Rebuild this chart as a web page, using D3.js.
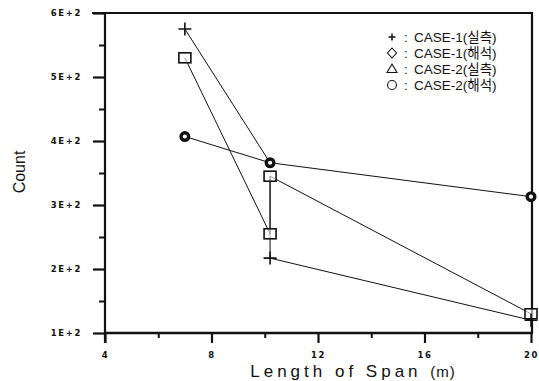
<!DOCTYPE html>
<html>
<head>
<meta charset="utf-8">
<script src="https://cdn.jsdelivr.net/npm/d3@7"></script>
<style>
  html, body { margin: 0; padding: 0; background: #fff; }
  svg { display: block; }
</style>
</head>
<body>
<svg id="chart" width="539" height="381"></svg>
<script>
// Span lengths (m) and counts for each case
const spans = [7, 10.2, 20];
const case1Measured = [575, 217, 120];        // "+"
const case1Analysis = [530, 255, 130];        // squares
const case2Measured = [345];                  // square at 10.2 m
const case2MeasuredSpans = [10.2];
const case2Analysis = [407, 366, 313];        // circles

// Connecting traces, as [span, count] pairs
const traceA = [[7, 575], [10.2, 366]];
const traceB = [[7, 530], [10.2, 255], [10.2, 345], [20, 130]];
const traceC = [[7, 407], [10.2, 366], [20, 313]];
const traceD = [[10.2, 345], [10.2, 217], [20, 120]];

const xTicks = [4, 8, 12, 16, 20];
const xMinor = [6, 10, 14, 18];
const yTicks = [100, 200, 300, 400, 500, 600];
const yTickLabels = ["1E+2", "2E+2", "3E+2", "4E+2", "5E+2", "6E+2"];
const yMinor = [150, 250, 350, 450, 550];

const legendLabels = ["CASE-1(실측)", "CASE-1(해석)", "CASE-2(실측)", "CASE-2(해석)"];
const legendSymbols = ["plus", "diamond", "triangle", "circle"];

const svg = d3.select("#chart");
const x = d3.scaleLinear().domain([4, 20]).range([105, 531]);
const y = d3.scaleLinear().domain([100, 600]).range([333, 13]);
const ink = "#111";
const tickFont = "'DejaVu Sans', sans-serif";

// Frame: top and right borders
svg.append("line").attr("x1", 92).attr("x2", 533).attr("y1", y(600)).attr("y2", y(600))
  .attr("stroke", ink).attr("stroke-width", 2.2);
svg.append("line").attr("x1", 532).attr("x2", 532).attr("y1", y(600) - 1).attr("y2", y(100))
  .attr("stroke", ink).attr("stroke-width", 2.2);

// Left axis
const yAxis = d3.axisLeft(y).tickValues(yTicks).tickSize(12)
  .tickFormat((d, i) => yTickLabels[i]).tickPadding(9);
const gy = svg.append("g").attr("transform", `translate(${x(4)},0)`).call(yAxis);
gy.select(".domain").remove();
gy.selectAll(".tick line").attr("stroke", ink).attr("stroke-width", 2.2);
gy.selectAll(".tick text").attr("font-family", tickFont).attr("font-size", 8.5)
  .attr("font-weight", "bold").attr("letter-spacing", 1.6).attr("fill", ink)
  .attr("dx", -2);
svg.append("line").attr("x1", x(4)).attr("x2", x(4)).attr("y1", y(600) - 1).attr("y2", y(100) + 10)
  .attr("stroke", ink).attr("stroke-width", 2.2);
svg.append("g").attr("transform", `translate(${x(4)},0)`)
  .call(d3.axisLeft(y).tickValues(yMinor).tickSize(6).tickFormat(""))
  .call(g => g.select(".domain").remove())
  .selectAll("line").attr("stroke", ink).attr("stroke-width", 2);

// Bottom axis
const xAxis = d3.axisBottom(x).tickValues(xTicks).tickSize(10).tickPadding(9);
const gx = svg.append("g").attr("transform", `translate(0,${y(100)})`).call(xAxis);
gx.select(".domain").remove();
gx.selectAll(".tick line").attr("stroke", ink).attr("stroke-width", 2.2);
gx.selectAll(".tick text").attr("font-family", tickFont).attr("font-size", 8.5)
  .attr("font-weight", "bold").attr("letter-spacing", 1.5).attr("fill", ink);
svg.append("line").attr("x1", x(4) - 1).attr("x2", 533).attr("y1", y(100)).attr("y2", y(100))
  .attr("stroke", ink).attr("stroke-width", 2.4);
svg.append("g").attr("transform", `translate(0,${y(100)})`)
  .call(d3.axisBottom(x).tickValues(xMinor).tickSize(5).tickFormat(""))
  .call(g => g.select(".domain").remove())
  .selectAll("line").attr("stroke", ink).attr("stroke-width", 2);

// Axis titles
svg.append("text").attr("x", 353).attr("y", 377).attr("text-anchor", "middle")
  .attr("font-family", "'Liberation Sans', Arial, sans-serif").attr("font-size", 17)
  .attr("letter-spacing", 4).attr("fill", ink)
  .text("Length of Span ")
  .append("tspan").attr("font-size", 15).attr("letter-spacing", 1).text("(m)");
svg.append("text").attr("transform", "translate(25,172) rotate(-90)").attr("text-anchor", "middle")
  .attr("font-family", "'Liberation Sans', Arial, sans-serif").attr("font-size", 16)
  .attr("fill", ink).text("Count");

// Connecting lines
const line = d3.line().x(d => x(d[0])).y(d => y(d[1]));
[traceA, traceB, traceC, traceD].forEach(t => {
  svg.append("path").datum(t).attr("d", line)
    .attr("fill", "none").attr("stroke", ink).attr("stroke-width", 1);
});

// Markers
function drawPlus(g, cx, cy, s) {
  g.append("path").attr("d", `M${cx - s},${cy}H${cx + s}M${cx},${cy - s}V${cy + s}`)
    .attr("stroke", ink).attr("stroke-width", 1.6).attr("fill", "none");
}
function drawSquare(g, cx, cy) {
  g.append("rect").attr("x", cx - 6).attr("y", cy - 5).attr("width", 12).attr("height", 10)
    .attr("fill", "#fff").attr("fill-opacity", 0.6).attr("stroke", ink).attr("stroke-width", 1.6);
}
function drawCircle(g, cx, cy) {
  g.append("circle").attr("cx", cx).attr("cy", cy).attr("r", 3.8)
    .attr("fill", "#fff").attr("stroke", ink).attr("stroke-width", 3.4);
}
const marks = svg.append("g");
spans.forEach((s, i) => drawSquare(marks, x(s), y(case1Analysis[i])));
case2MeasuredSpans.forEach((s, i) => drawSquare(marks, x(s), y(case2Measured[i])));
spans.forEach((s, i) => drawCircle(marks, x(s), y(case2Analysis[i])));
spans.forEach((s, i) => drawPlus(marks, x(s), y(case1Measured[i]), 6.5));

// Legend
const leg = svg.append("g").attr("font-family", "'Liberation Sans', Arial, 'Noto Sans CJK KR', sans-serif")
  .attr("font-size", 13.5).attr("fill", ink);
legendLabels.forEach((lab, i) => {
  const ly = 37 + i * 16;
  const sx = 392;
  if (legendSymbols[i] === "plus") {
    leg.append("path").attr("d", `M${sx - 3.5},${ly}H${sx + 3.5}M${sx},${ly - 3.5}V${ly + 3.5}`)
      .attr("stroke", ink).attr("stroke-width", 1.5);
  } else if (legendSymbols[i] === "diamond") {
    leg.append("path").attr("d", `M${sx},${ly - 5}L${sx + 4.5},${ly}L${sx},${ly + 5}L${sx - 4.5},${ly}Z`)
      .attr("fill", "none").attr("stroke", ink).attr("stroke-width", 1.1);
  } else if (legendSymbols[i] === "triangle") {
    leg.append("path").attr("d", `M${sx},${ly - 5}L${sx + 5},${ly + 3.5}L${sx - 5},${ly + 3.5}Z`)
      .attr("fill", "none").attr("stroke", ink).attr("stroke-width", 1.1);
  } else {
    leg.append("circle").attr("cx", sx).attr("cy", ly).attr("r", 4.5)
      .attr("fill", "none").attr("stroke", ink).attr("stroke-width", 1.1);
  }
  leg.append("text").attr("x", 404).attr("y", ly + 5).text(":");
  leg.append("text").attr("x", 414).attr("y", ly + 5).text(lab);
});
</script>
</body>
</html>
